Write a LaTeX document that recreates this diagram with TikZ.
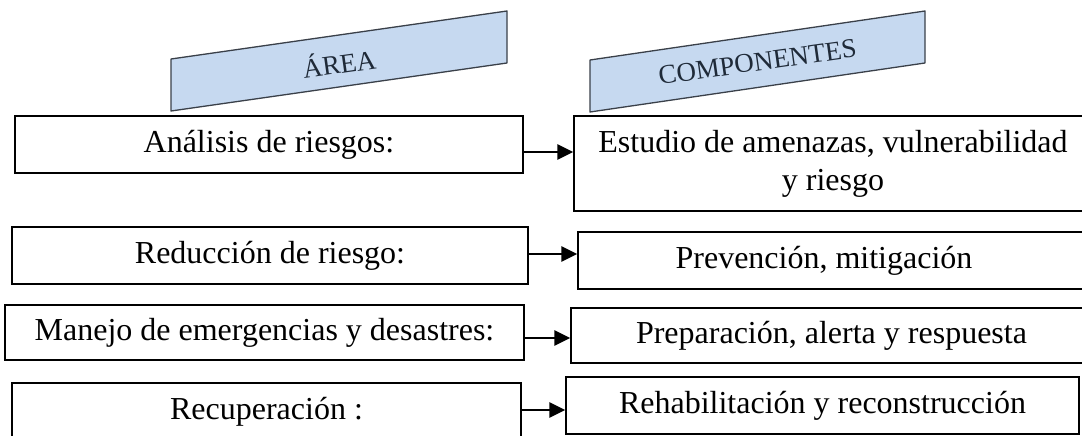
\documentclass[tikz,border=0pt]{standalone}
\usepackage{fontspec}
\setmainfont{Liberation Serif}
\usetikzlibrary{arrows.meta}
\definecolor{bannerfill}{HTML}{C6D9F0}
\definecolor{bannerline}{HTML}{3A4049}
\definecolor{bannertext}{HTML}{1F2A38}
\begin{document}
\begin{tikzpicture}[x=1pt,y=-1pt,
  box/.style={draw=black, fill=white, line width=1.3pt, inner sep=0pt,
    font=\fontsize{32}{38}\selectfont, align=center},
  arr/.style={line width=2.8pt, -{Triangle[length=16pt,width=15pt]}},
  banner/.style={fill=bannerfill, draw=bannerline, line width=1.3pt, line join=round},
  btext/.style={text=bannertext, font=\fontsize{27}{30}\selectfont, rotate=8, inner sep=0pt}]
\useasboundingbox (0,0) rectangle (1082,436);

% banners
\draw[banner] (171,59) -- (507,11) -- (507,63) -- (171,111) -- cycle;
\node[btext] (areaT) at (339,62) {ÁREA};
\draw[banner] (590,60) -- (925,11) -- (925,63) -- (590,112) -- cycle;
\node[btext] (compT) at (757.5,62) {COMPONENTES};

% left boxes
\node[box, minimum width=508pt, minimum height=57pt] (L1) at (269,144.5) {Análisis de riesgos:};
\node[box, minimum width=516pt, minimum height=57pt] (L2) at (270,255.5) {Reducción de riesgo:};
\node[box, minimum width=519pt, minimum height=55pt] (L3) at (264.5,332.5) {Manejo de emergencias y desastres:};
\node[box, minimum width=509pt, minimum height=57pt] (L4) at (266.5,411.5) {Recuperación :};

% right boxes
\node[box, minimum width=518pt, minimum height=95pt] (R1) at (833,163.5) {Estudio de amenazas, vulnerabilidad\\y riesgo};
\node[box, minimum width=512pt, minimum height=57pt] (R2) at (834,260.5) {\hspace*{-20pt}Prevención, mitigación};
\node[box, minimum width=521pt, minimum height=55pt] (R3) at (831.5,335.5) {Preparación, alerta y respuesta};
\node[box, minimum width=513pt, minimum height=57pt] (R4) at (822.5,405.5) {Rehabilitación y reconstrucción};

% arrows
\coordinate (a1) at (0,152);
\coordinate (a2) at (0,254);
\coordinate (a3) at (0,338);
\coordinate (a4) at (0,410);
\draw[arr] (L1.east |- a1) -- (R1.west |- a1);
\draw[arr] (L2.east |- a2) -- (R2.west |- a2);
\draw[arr] (L3.east |- a3) -- (R3.west |- a3);
\draw[arr] (L4.east |- a4) -- (R4.west |- a4);
\end{tikzpicture}
\end{document}
